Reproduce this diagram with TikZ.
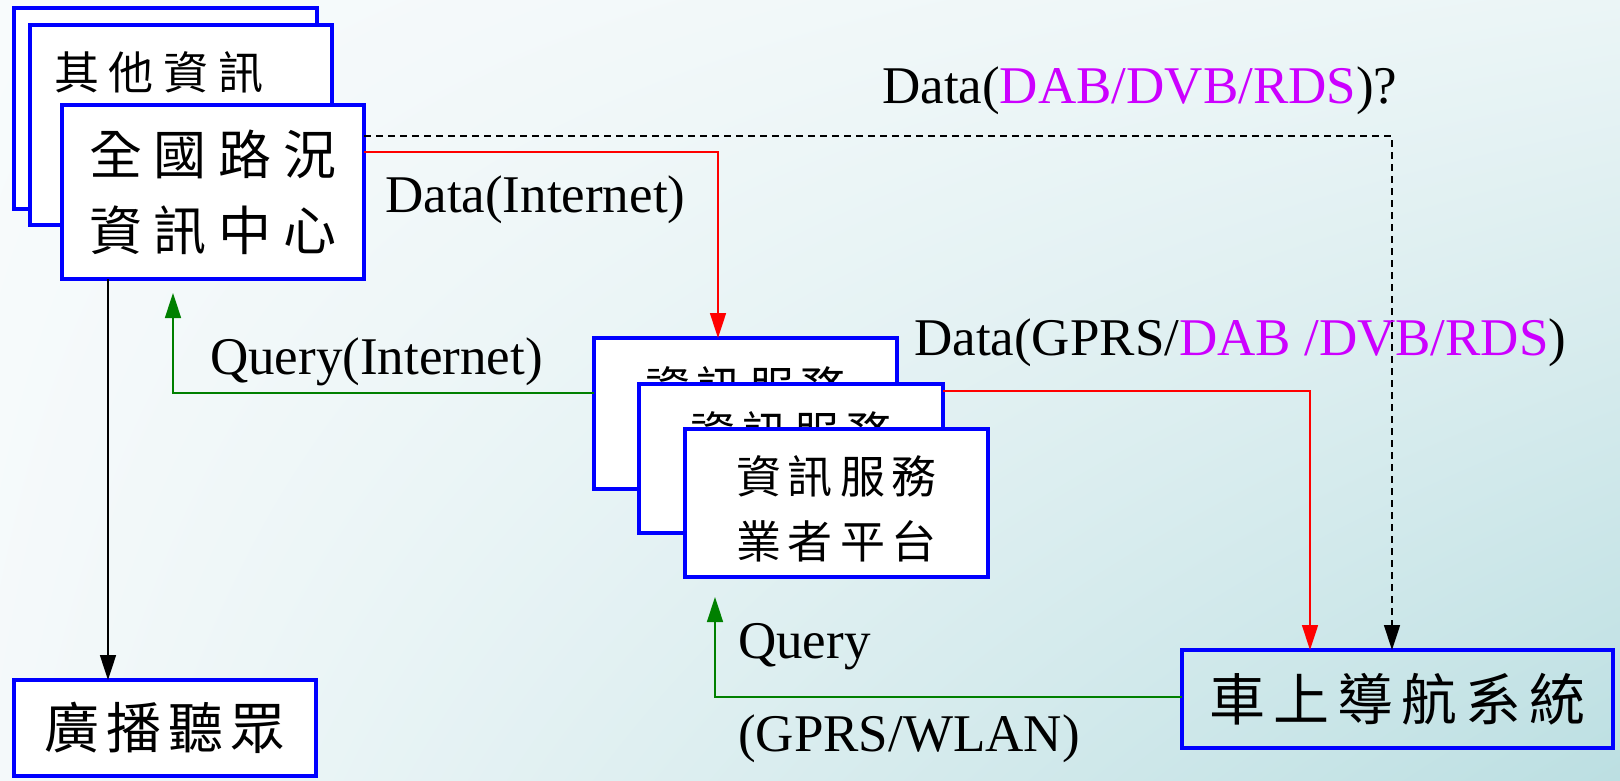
\documentclass[tikz,border=0pt]{standalone}
\usepackage{fontspec}
\setmainfont{Liberation Serif}
\newfontfamily\cjk{Noto Sans CJK TC}
\usetikzlibrary{arrows.meta,calc,shadings}
\definecolor{boxblue}{RGB}{0,0,255}
\definecolor{mag}{RGB}{204,0,255}
\definecolor{grn}{RGB}{0,128,0}
\definecolor{bgUL}{HTML}{F8FBFC}
\definecolor{bgUR}{HTML}{EBF5F6}
\definecolor{bgLL}{HTML}{F4F9FA}
\definecolor{bgLR}{HTML}{BCDFE2}
\begin{document}
\begin{tikzpicture}[x=1pt,y=-1pt,
  box/.style={draw=boxblue, line width=3.5pt, fill=white, outer sep=0pt, inner sep=0pt, align=center},
  lbl/.style={font=\fontsize{53}{60}\selectfont, inner sep=0pt, anchor=base west},
  conn/.style={line width=1.6pt},
  tip/.style={-{Triangle[length=25pt,width=16pt]}}
]
\useasboundingbox (0,0) rectangle (1620,780);
\shade[upper left=bgUL, upper right=bgUR, lower left=bgLL, lower right=bgLR] (0,0) rectangle (1620,780);

% stacked boxes top left
\node[box, minimum width=303pt, minimum height=201pt] (oth1) at (165.5,108.5) {};
\node[box, minimum width=302pt, minimum height=200pt] (oth2) at (181,125) {};
\node[font={\cjk\fontsize{45}{50}\selectfont}, inner sep=0pt] (othtxt) at (159,72) {其\kern10pt 他\kern10pt 資\kern10pt 訊};
\node[box, minimum width=302pt, minimum height=174pt, font={\cjk\fontsize{53}{76}\selectfont}] (nat) at (213,192)
  {全\kern12pt 國\kern12pt 路\kern12pt 況\\資\kern12pt 訊\kern12pt 中\kern12pt 心};

% service platform boxes
\node[box, minimum width=303pt, minimum height=151pt, font={\cjk\fontsize{45}{65}\selectfont}] (svc1) at (745.5,413.5)
  {\rule{0pt}{50pt}資\kern7pt 訊\kern7pt 服\kern7pt 務\\業\kern7pt 者\kern7pt 平\kern7pt 台};
\node[box, minimum width=304pt, minimum height=149pt, font={\cjk\fontsize{45}{65}\selectfont}] (svc2) at (791,458.5)
  {\rule{0pt}{50pt}資\kern7pt 訊\kern7pt 服\kern7pt 務\\業\kern7pt 者\kern7pt 平\kern7pt 台};
\node[box, minimum width=303pt, minimum height=148pt, font={\cjk\fontsize{45}{65}\selectfont}] (svc3) at (836.5,503)
  {\rule{0pt}{50pt}資\kern7pt 訊\kern7pt 服\kern7pt 務\\業\kern7pt 者\kern7pt 平\kern7pt 台};

% car navigation and broadcast listeners
\node[box, fill=none, minimum width=431pt, minimum height=98pt, font={\cjk\fontsize{56}{60}\selectfont}] (car) at (1397.5,699)
  {車\kern8pt 上\kern8pt 導\kern8pt 航\kern8pt 系\kern8pt 統};
\node[box, minimum width=302pt, minimum height=96pt, font={\cjk\fontsize{55}{60}\selectfont}] (bc) at (165,728)
  {廣\kern7pt 播\kern7pt 聽\kern7pt 眾};

% connector end points
\coordinate (a1) at ($(nat.south west)+(46,0)$);
\coordinate (ds) at ($(nat.north east)+(0,31)$);
\coordinate (de) at ($(car.north west)+(210,0)$);
\coordinate (r1) at ($(nat.north east)+(0,47)$);
\coordinate (r1e) at ($(svc1.north west)+(124,0)$);
\coordinate (g1) at ($(svc1.north west)+(0,55)$);
\coordinate (g1e) at ($(nat.south west)+(111,0)$);
\coordinate (r2) at ($(svc2.north east)+(0,7)$);
\coordinate (r2e) at ($(car.north west)+(128,0)$);
\coordinate (g2) at ($(car.north west)+(0,47)$);
\coordinate (g2e) at ($(svc3.south west)+(30,0)$);

% connectors
\draw[conn, tip, black] (a1) -- (a1 |- bc.north);
\draw[conn, tip, black, dash pattern=on 7pt off 5pt] (ds) -| (de);
\draw[conn, tip, red] (r1) -| (r1e);
\draw[conn, tip, grn, shorten >=14pt] (g1) -| (g1e);
\draw[conn, tip, red] (r2) -| (r2e);
\draw[conn, tip, grn, shorten >=20pt] (g2) -| (g2e);

% labels
\node[lbl] (l1) at (882,103) {Data(\textcolor{mag}{DAB/DVB/RDS})?};
\node[lbl] (l2) at (385,212) {Data(Internet)};
\node[lbl] (l3) at (210,374) {Query(Internet)};
\node[lbl] (l4) at (914,355) {Data(GPRS/\textcolor{mag}{DAB /DVB/RDS})};
\node[lbl] (l5) at (738,658) {Query};
\node[lbl] (l6) at (738,751) {(GPRS/WLAN)};
\end{tikzpicture}
\end{document}
